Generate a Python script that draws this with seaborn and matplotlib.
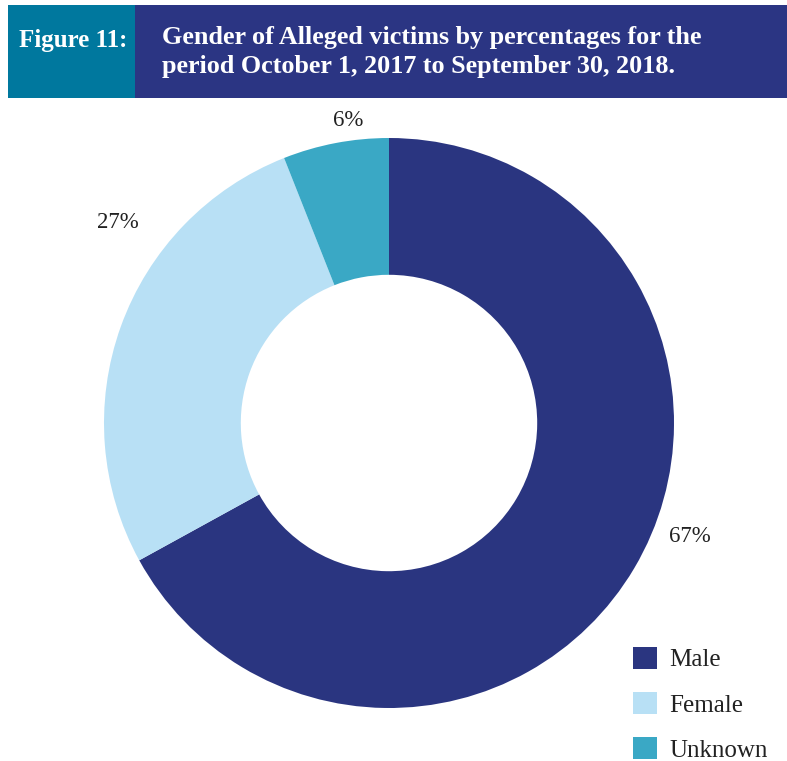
import matplotlib
matplotlib.use("Agg")
import matplotlib.pyplot as plt
from matplotlib.patches import Rectangle, Patch
import seaborn as sns

# Data
categories = ["Male", "Female", "Unknown"]
percentages = [67, 27, 6]
colors = ["#2a3580", "#b8e0f5", "#3aa8c5"]

header_label = "Figure 11:"
header_title = ("Gender of Alleged victims by percentages for the\n"
                "period October 1, 2017 to September 30, 2018.")

sns.set_theme(style="white")
plt.rcParams["font.family"] = ["Liberation Serif", "DejaVu Serif"]

W, H = 787, 761
fig = plt.figure(figsize=(W / 100, H / 100), dpi=100)
fig.patch.set_facecolor("white")


def fx(px):
    return px / W


def fy(py):
    return 1 - py / H


# Header band
fig.patches.append(Rectangle((fx(8), fy(98)), fx(135) - fx(8), fy(5) - fy(98),
                             transform=fig.transFigure, facecolor="#00789e",
                             edgecolor="none", zorder=0))
fig.patches.append(Rectangle((fx(135), fy(98)), fx(787) - fx(135), fy(5) - fy(98),
                             transform=fig.transFigure, facecolor="#2b3583",
                             edgecolor="none", zorder=0))
fig.text(fx(19), fy(40), header_label, color="white", fontsize=18,
         fontweight="bold", va="center", ha="left")
fig.text(fx(162), fy(52), header_title, color="white", fontsize=18.8,
         fontweight="bold", va="center", ha="left", linespacing=1.28)

# Donut
ax = fig.add_axes([fx(104), fy(708), fx(674) - fx(104), fy(138) - fy(708)])
wedges, _ = ax.pie(percentages, colors=colors, startangle=90, counterclock=False,
                   radius=1.0, wedgeprops=dict(width=0.48, edgecolor="none"))
ax.set_xlim(-1, 1)
ax.set_ylim(-1, 1)
ax.set_aspect("equal")
ax.axis("off")

# Percentage labels placed around the ring
label_pos = [(1.056, -0.40), (-0.951, 0.702), (-0.144, 1.063)]
for (x, y), p in zip(label_pos, percentages):
    ax.text(x, y, f"{p}%", ha="center", va="center", fontsize=16.5,
            color="#222222", clip_on=False)

# Legend
handles = [Patch(facecolor=c, edgecolor="none") for c in colors]
leg = fig.legend(handles, categories, loc="upper left",
                 bbox_to_anchor=(fx(633), fy(647)), frameon=False,
                 fontsize=18, handlelength=0.95, handleheight=0.95,
                 labelspacing=0.83, handletextpad=0.5, borderpad=0,
                 borderaxespad=0)
for t in leg.get_texts():
    t.set_color("#222222")

fig.savefig("out.png", dpi=100, facecolor="white")
